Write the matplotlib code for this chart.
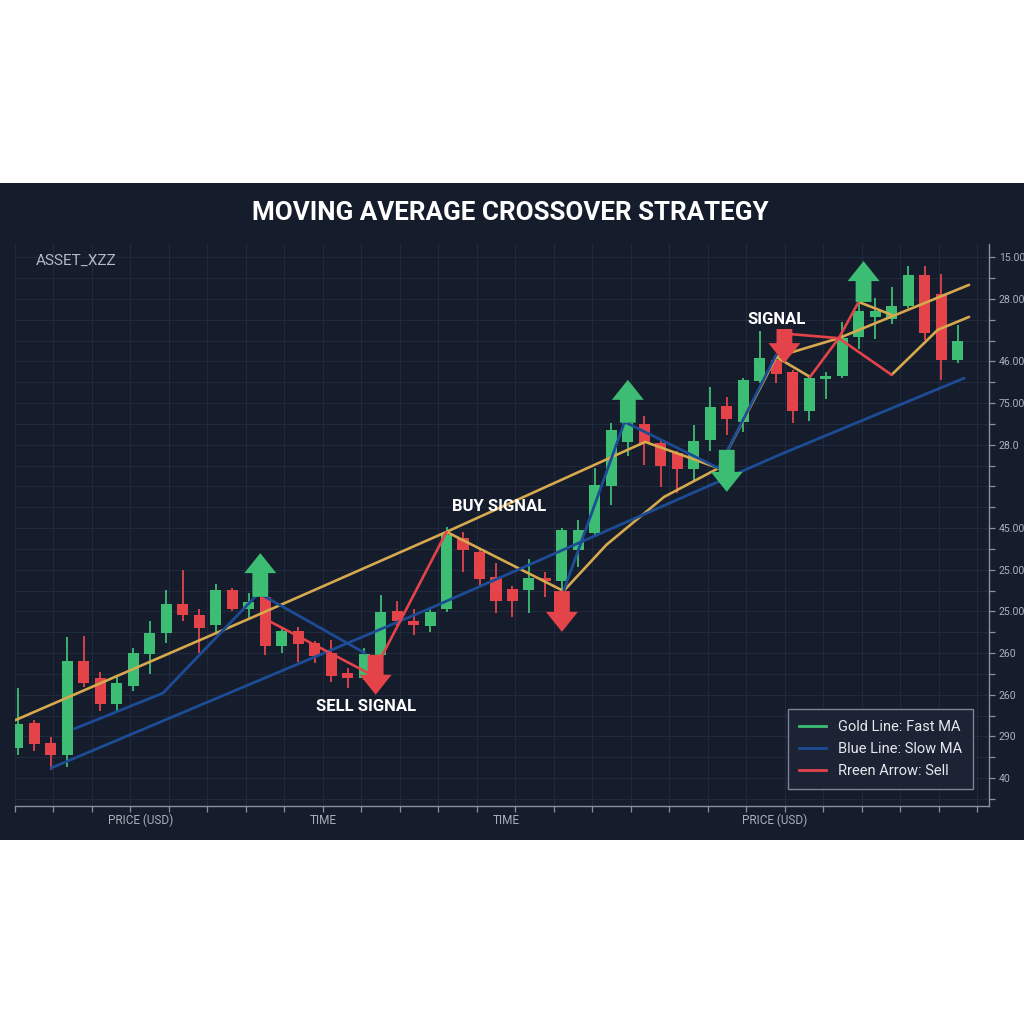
import numpy as np
import matplotlib.pyplot as plt
from matplotlib.patches import Rectangle
from matplotlib.lines import Line2D

plt.rcParams['font.family'] = ['Roboto', 'DejaVu Sans']

# candle data (one per bar)
opens = [112.2, 118.2, 113.4, 110.6, 133.1, 129.0, 122.8, 127.1, 134.8, 139.8, 146.8, 144.2, 141.8, 150.2,
         145.6, 148.5, 136.7, 140.3, 137.4, 135.0, 130.2, 129.0, 134.6, 145.1, 142.5, 141.5, 145.6, 162.6,
         159.3, 153.3, 150.4, 150.2, 153.0, 152.3, 159.8, 163.8, 175.1, 185.7, 190.0, 185.4, 183.0, 179.2,
         186.2, 194.3, 190.5, 200.3, 205.4, 202.5, 193.1, 200.8, 201.5, 210.9, 215.7, 215.2, 218.3, 225.8,
         221.2, 205.4]
closes = [118.0, 113.2, 110.6, 133.1, 127.8, 122.8, 127.8, 135.0, 139.8, 146.8, 144.2, 141.0, 150.2, 145.6,
          147.3, 136.7, 140.3, 137.2, 134.3, 129.5, 129.0, 134.8, 144.9, 142.7, 141.8, 144.9, 163.4, 159.8,
          152.8, 147.5, 147.5, 153.0, 152.3, 164.6, 164.6, 175.4, 188.6, 190.3, 185.4, 179.9, 179.2, 186.0,
          194.1, 191.2, 200.6, 205.8, 202.0, 193.1, 201.0, 201.5, 210.6, 217.1, 217.1, 218.3, 225.8, 211.9,
          205.4, 209.9]
highs = [126.6, 119.0, 114.9, 138.9, 139.1, 130.5, 129.8, 136.2, 142.7, 150.2, 155.0, 145.6, 151.6, 150.6,
         149.4, 149.2, 141.3, 141.3, 137.9, 138.2, 131.4, 136.2, 149.0, 147.5, 145.6, 146.1, 165.3, 164.1,
         160.0, 156.6, 151.1, 157.6, 154.5, 165.0, 167.0, 179.4, 190.3, 191.4, 192.0, 185.9, 183.5, 189.8,
         198.9, 196.5, 201.0, 212.3, 206.6, 203.0, 201.8, 202.5, 214.5, 221.4, 220.2, 222.9, 228.0, 228.0,
         226.0, 213.8]
lows = [110.6, 111.5, 107.0, 107.7, 126.9, 121.1, 121.1, 125.9, 130.0, 137.4, 142.7, 135.0, 139.8, 145.1,
        143.4, 134.6, 135.0, 132.9, 132.6, 128.1, 126.6, 128.6, 133.8, 141.3, 139.4, 140.1, 144.9, 154.5,
        150.9, 144.6, 143.7, 144.6, 148.5, 150.2, 155.7, 163.4, 170.6, 182.3, 180.2, 174.9, 173.4, 176.1,
        183.5, 187.4, 188.1, 199.8, 199.8, 190.2, 190.7, 196.0, 201.0, 208.0, 210.4, 214.0, 217.8, 210.2,
        200.6, 204.6]

# indicator lines as (bar index, price) vertices
gold_lines = [
    ([-0.4, 14.0, 26, 38.05, 42.5, 46, 49.8, 57.7], [118.5, 143.2, 164.1, 185.7, 179.4, 206.1, 210.6, 223.4]),
    ([26, 33.1, 35.7, 39.2, 42.5], [164.1, 149.9, 161.0, 172.5, 179.4]),
    ([46, 48.05], [206.1, 201.3]),
    ([51, 53], [219.3, 216.2]),
    ([53, 55.8, 57.7], [201.8, 212.6, 215.7]),
]
blue_lines = [
    ([2, 24.8, 46.2, 57.4], [107.4, 145.4, 182.6, 201.0]),
    ([3.4, 8.8, 14.6, 21.05], [116.8, 125.4, 149.4, 135.0]),
    ([33.1, 36.8, 42.5, 46], [149.9, 190.5, 179.4, 206.6]),
]
red_lines = [
    ([14.75, 21.45], [143.7, 129.8]),
    ([21.7, 26], [131.4, 164.1]),
    ([46.2, 49.8, 53], [211.8, 210.6, 201.8]),
    ([48.05, 49.8, 51], [201.3, 210.6, 219.3]),
]

# signal arrows
sig_x = [14.7, 21.7, 33, 37, 43, 46.5, 51.3]
sig_tip = [159.0, 125.0, 140.1, 200.6, 173.7, 204.6, 229.1]
sig_dir = [1, -1, -1, 1, -1, -1, 1]
sig_len = [10.5, 9.6, 9.8, 10.3, 10.1, 8.2, 9.8]
sig_green = [True, False, False, True, True, False, True]

ytick_vals = [105, 115, 125, 135, 145, 155, 165, 185, 195, 205, 220, 230]
ytick_text = ["40", "290", "260", "260", "25.00", "25.00", "45.00", "28.0", "75.00", "46.00", "28.00", "15.00"]

BG = '#151c2c'
GREEN = '#3dbd74'
RED = '#e4434a'
GOLD = '#d6a94e'
BLUE = '#1d4c96'

fig = plt.figure(figsize=(10.24, 10.24), dpi=100, facecolor='white')
fig.patches.append(Rectangle((0, 1 - 840 / 1024), 1, 657 / 1024, transform=fig.transFigure,
                             facecolor=BG, edgecolor='none', zorder=-10))
ax = fig.add_axes([15 / 1024, 0.2129, 974 / 1024, 0.5488])
ax.set_zorder(1)
ax.set_facecolor(BG)
ax.set_xlim(-0.121, 58.91)
ax.set_ylim(98.3, 233.2)

# grid
xt = -0.18 + 2.3345 * np.arange(26)
ax.set_xticks(xt)
ax.set_xticklabels([])
ax.set_yticks(np.arange(100, 231, 5), minor=True)
for y in np.arange(100, 231, 5):
    ax.axhline(y, color='#212a3c', lw=0.8, zorder=0)
for x in xt:
    ax.axvline(x, color='#212a3c', lw=0.8, zorder=0)

# candles
idx = np.arange(len(opens))
o = np.array(opens); c = np.array(closes)
cols = [GREEN if cc >= oo else RED for oo, cc in zip(o, c)]
ax.vlines(idx, lows, highs, colors=cols, lw=1.3, zorder=2)
h = np.maximum(np.abs(c - o), 0.8)
ax.bar(idx, h, bottom=np.minimum(o, c), width=0.67, color=cols, zorder=2)

for xs, ys in gold_lines:
    ax.plot(xs, ys, color=GOLD, lw=1.9, zorder=3, solid_capstyle='round')
for xs, ys in blue_lines:
    ax.plot(xs, ys, color=BLUE, lw=2.0, zorder=3, solid_capstyle='round')
for xs, ys in red_lines:
    ax.plot(xs, ys, color=RED, lw=1.9, zorder=3, solid_capstyle='round')

hw, sw, hl = 0.97, 0.48, 4.8
for x, t, s, L, g in zip(sig_x, sig_tip, sig_dir, sig_len, sig_green):
    px = [x, x + hw, x + sw, x + sw, x - sw, x - sw, x - hw]
    py = [t, t - s * hl, t - s * hl, t - s * L, t - s * L, t - s * hl, t - s * hl]
    ax.fill(px, py, color=GREEN if g else RED, zorder=4, lw=0)

tfont = dict(color='white', fontsize=12, fontweight='bold', ha='center', va='center', zorder=5)
ax.text(29.2, 170.3, 'BUY SIGNAL', **tfont)
ax.text(21.1, 122.3, 'SELL SIGNAL', **tfont)
ax.text(46.05, 215.2, 'SIGNAL', **tfont)

# axes styling
for s in ['top', 'left']:
    ax.spines[s].set_visible(False)
for s in ['bottom', 'right']:
    ax.spines[s].set_color('#8a919e')
    ax.spines[s].set_linewidth(1.0)
ax.yaxis.tick_right()
ax.set_yticks(ytick_vals)
ax.set_yticklabels(ytick_text)
ax.tick_params(axis='y', which='both', colors='#8a919e', labelcolor='#aab0bb', labelsize=7.6,
               length=4.5, width=0.9, pad=2.5)
ax.tick_params(axis='x', colors='#8a919e', length=4.5, width=0.9)

for xf, lab in zip([0.129, 0.316, 0.504, 0.780], ['PRICE (USD)', 'TIME', 'TIME', 'PRICE (USD)']):
    ax.text(xf, -0.025, lab, transform=ax.transAxes, color='#a9afba', fontsize=8.5, ha='center', va='center')

handles = [Line2D([], [], color=GREEN, lw=2), Line2D([], [], color=BLUE, lw=2), Line2D([], [], color=RED, lw=2)]
leg = ax.legend(handles, ['Gold Line: Fast MA', 'Blue Line: Slow MA', 'Rreen Arrow: Sell'],
                loc='lower right', bbox_to_anchor=(0.9836, 0.030), borderaxespad=0, fontsize=10.5,
                frameon=True, fancybox=False, facecolor='#1b2334', edgecolor='#7c8493', framealpha=1,
                handlelength=1.9, handletextpad=0.8, labelspacing=0.55, borderpad=0.75)
leg.get_frame().set_linewidth(1.0)
for t in leg.get_texts():
    t.set_color('#e6e8ec')
leg.set_zorder(6)

fig.text(0.498, 1 - 213 / 1024, 'MOVING AVERAGE CROSSOVER STRATEGY', color='white', fontsize=18.7,
         fontweight='bold', ha='center', va='center')
fig.text(36 / 1024, 1 - 261 / 1024, 'ASSET_XZZ', color='#b4b9c3', fontsize=11, ha='left', va='center')

fig.savefig('out.png', dpi=100, facecolor='white')
